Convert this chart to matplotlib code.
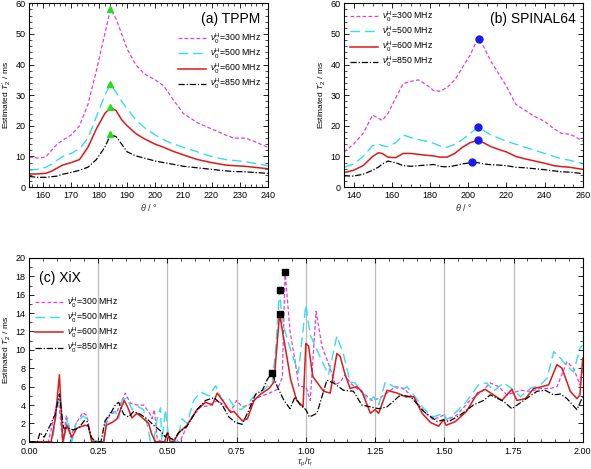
import numpy as np
import matplotlib
matplotlib.use("Agg")
import matplotlib.pyplot as plt
from matplotlib.ticker import MultipleLocator

plt.rcParams['font.family'] = ['Liberation Sans', 'DejaVu Sans']
plt.rcParams['mathtext.fontset'] = 'custom'
plt.rcParams['mathtext.rm'] = 'Liberation Sans'
plt.rcParams['mathtext.it'] = 'Liberation Sans:italic'

fields = ["300", "500", "600", "850"]

# (a) TPPM
tppm_theta = [155, 158, 161, 163, 165, 167, 170, 173, 176, 179, 182, 184, 186, 188, 190, 193,
              196, 200, 203, 206, 210, 215, 220, 225, 228, 232, 235, 240]
tppm_300 = [9.8, 9.5, 9.8, 12, 14, 15.3, 17, 20, 27, 38, 50, 58, 55, 50, 45, 40,
            37, 35, 33, 29, 24, 21, 19, 17, 16, 16, 15, 13]
tppm_500 = [5.5, 5.8, 6.5, 7.5, 8.8, 10, 11, 12.5, 16, 23, 30, 33.5, 31, 28, 25.5, 22,
            19.5, 17, 15.5, 14.2, 13, 11.5, 10, 9, 8.7, 8.3, 7.8, 7]
tppm_600 = [4.3, 4.3, 4.5, 5.2, 6.2, 7.2, 8, 9, 13, 19, 24, 26, 25, 22, 20, 17.5,
            15.8, 14, 13, 11.8, 10.5, 9, 8, 7.2, 7, 6.8, 6.5, 6]
tppm_850 = [3.5, 3.2, 3.2, 3.4, 3.6, 4.2, 4.8, 5.5, 6.5, 9, 13, 17, 16.5, 14, 11.5, 10.2,
            9.5, 8.5, 8, 7.5, 6.8, 6.3, 5.8, 5.3, 5.1, 5, 4.8, 4.5]
tppm_best_theta = [184, 184, 184, 184]
tppm_best_t2 = [58, 33.5, 26, 17.2]

# (b) SPINAL64
sp_theta = [135, 140, 145, 150, 153, 155, 158, 162, 166, 170, 174, 178, 182, 185, 189, 193,
            197, 201, 205, 208, 212, 216, 220, 225, 230, 235, 240, 245, 249, 253, 256, 260]
sp_300 = [11.5, 14, 17.5, 23.5, 22.5, 21.8, 24, 29, 33.8, 34.5, 35, 33.5, 31.5, 31.3, 32.5, 35,
          39, 43, 48.5, 46, 41, 37, 33, 27, 25, 23, 21.5, 19, 17.5, 17.3, 16.5, 15]
sp_500 = [6.5, 7.5, 10, 13.5, 14.2, 13.5, 13.2, 14.5, 17, 16.2, 15.5, 15, 14.3, 13.5, 13, 14,
          15.5, 17.5, 19.5, 18.5, 17, 16, 15, 14, 13, 12, 11, 10, 9.2, 8.8, 8.3, 7.8]
sp_600 = [4.7, 5.5, 7, 10, 11.2, 11, 9.8, 9.6, 11, 11, 10.7, 10.4, 10.2, 9.8, 9.8, 11,
          13, 14.5, 15.3, 14.5, 13.2, 12.3, 11.5, 10, 9.2, 8.5, 7.8, 7, 6.7, 6.5, 6.2, 5.8]
sp_850 = [3.7, 3.6, 4.2, 5.5, 6.5, 7.5, 8.5, 8, 7, 6.8, 7, 7.2, 7.4, 6.8, 6.6, 7,
          7.6, 7.9, 8, 7.6, 7.3, 7.2, 7, 6.5, 6.3, 6, 5.7, 5.3, 5, 4.9, 4.7, 4.4]
sp_best_theta = [205.5, 205, 205, 202]
sp_best_t2 = [48.5, 19.5, 15.3, 8.3]

# (c) XiX
xix_x_300 = [0, 0.07, 0.085, 0.1, 0.107, 0.122, 0.135, 0.15, 0.17, 0.195, 0.21, 0.22, 0.23, 0.27,
             0.28, 0.293, 0.318, 0.348, 0.366, 0.39, 0.414, 0.438, 0.444, 0.453, 0.463, 0.48,
             0.545, 0.583, 0.62, 0.65, 0.68, 0.704, 0.728, 0.75, 0.77, 0.795, 0.825, 0.861,
             0.897, 0.915, 0.925, 0.943, 0.96, 0.975, 1.0, 1.016, 1.037, 1.058, 1.088, 1.106,
             1.124, 1.142, 1.16, 1.184, 1.215, 1.239, 1.263, 1.293, 1.324, 1.354, 1.39, 1.426,
             1.46, 1.497, 1.51, 1.545, 1.593, 1.636, 1.666, 1.696, 1.726, 1.775, 1.81, 1.847,
             1.883, 1.907, 1.943, 1.967, 1.99, 2.0]
xix_300 = [0, 0, 2.0, 4.0, 4.5, 0, 2.8, 0.5, 2.0, 3.2, 2.8, 1.0, 0, 0,
           2.0, 3.0, 3.3, 5.3, 4.2, 4.0, 4.0, 3.0, 2.5, 3.5, 0.3, 0,
           0, 2.5, 3.8, 3.9, 4.5, 4.0, 3.3, 4.5, 3.8, 4.0, 4.8, 5.2,
           5.7, 7.0, 18.5, 12, 9, 6.0, 6.0, 4.5, 14.2, 10.4, 8.0, 6.2,
           6.5, 7.3, 6.4, 5.8, 5.1, 4.5, 4.7, 5.3, 6.0, 5.8, 4.7, 3.3,
           2.4, 2.9, 2.4, 2.9, 4.5, 5.5, 6.4, 6.0, 5.1, 5.6, 5.5, 5.8,
           5.8, 6.0, 8.7, 8.0, 6.2, 8.0]
xix_x_500 = [0, 0.085, 0.1, 0.11, 0.125, 0.14, 0.155, 0.17, 0.195, 0.21, 0.225, 0.27, 0.275,
             0.287, 0.312, 0.324, 0.336, 0.354, 0.372, 0.396, 0.414, 0.432, 0.438, 0.45, 0.463,
             0.475, 0.48, 0.493, 0.505, 0.535, 0.553, 0.571, 0.595, 0.62, 0.65, 0.674, 0.698,
             0.722, 0.74, 0.765, 0.789, 0.813, 0.849, 0.879, 0.891, 0.905, 0.915, 0.943, 0.973,
             1.0, 1.016, 1.04, 1.064, 1.082, 1.112, 1.136, 1.16, 1.178, 1.202, 1.227, 1.245,
             1.263, 1.287, 1.318, 1.348, 1.365, 1.39, 1.426, 1.46, 1.497, 1.51, 1.545, 1.58,
             1.624, 1.654, 1.678, 1.714, 1.744, 1.775, 1.81, 1.847, 1.871, 1.895, 1.92, 1.943,
             1.967, 1.99, 2.0]
xix_500 = [0, 0, 3.5, 5.0, 0, 2.6, 0, 2.0, 2.8, 2.5, 0.2, 0, 2.0,
           3.1, 3.3, 2.5, 4.5, 4.8, 3.5, 3.8, 3.5, 1.2, 0, 0, 2.5,
           3.7, 0, 3.5, 0.3, 0, 2.5, 2.0, 4.5, 5.4, 5.0, 6.1, 4.5,
           4.7, 3.9, 3.5, 4.0, 5.0, 5.7, 6.5, 10, 16.5, 13, 10.2, 7.5,
           14.9, 11.6, 10, 8.4, 7.3, 11.5, 9.5, 6.5, 6.4, 5.5, 4.4, 4.9,
           4.0, 6.5, 6.0, 5.6, 6.0, 5.1, 3.6, 2.7, 3.1, 2.4, 3.3, 4.4,
           6.2, 6.4, 5.5, 6.4, 5.8, 4.9, 5.8, 6.2, 6.9, 9.8, 9.1, 8.2,
           7.6, 10.2, 10.5]
xix_x_600 = [0, 0.08, 0.095, 0.11, 0.122, 0.136, 0.155, 0.173, 0.203, 0.215, 0.227, 0.27, 0.279,
             0.3, 0.318, 0.332, 0.344, 0.356, 0.372, 0.39, 0.414, 0.432, 0.444, 0.457, 0.49,
             0.5, 0.51, 0.523, 0.541, 0.571, 0.607, 0.638, 0.662, 0.68, 0.704, 0.728, 0.74,
             0.77, 0.789, 0.813, 0.837, 0.867, 0.885, 0.905, 0.93, 0.945, 0.967, 0.99, 1.0,
             1.01, 1.025, 1.064, 1.088, 1.112, 1.124, 1.142, 1.16, 1.184, 1.202, 1.233, 1.25,
             1.263, 1.293, 1.33, 1.36, 1.39, 1.42, 1.45, 1.48, 1.497, 1.507, 1.54, 1.58,
             1.62, 1.648, 1.678, 1.708, 1.744, 1.762, 1.793, 1.823, 1.853, 1.877, 1.907, 1.925,
             1.955, 1.979, 1.99, 2.0]
xix_600 = [0, 0, 2.5, 7.3, 0, 1.8, 0.5, 1.5, 1.8, 1.7, 0, 0, 1.8,
           2.1, 2.5, 3.6, 4.5, 3.8, 2.6, 3.1, 2.5, 2.0, 0.8, 0, 0,
           1.0, 0, 0, 1.0, 1.8, 3.5, 4.3, 4.0, 5.3, 4.3, 3.2, 3.3,
           2.3, 2.5, 4.5, 5.2, 5.8, 6.5, 13.9, 9.5, 6.8, 4.5, 3.8, 10.7,
           10.4, 7.1, 5.5, 5.3, 9.6, 9.3, 7.3, 5.8, 6.0, 5.5, 3.1, 3.5,
           3.1, 5.6, 5.3, 4.9, 4.9, 3.1, 2.1, 1.7, 2.4, 1.8, 2.2, 3.3,
           5.3, 5.7, 5.1, 4.5, 5.7, 4.5, 4.7, 5.8, 6.0, 6.2, 8.4, 8.0,
           5.5, 4.7, 5.1, 9.1]
xix_x_850 = [0, 0.03, 0.04, 0.055, 0.08, 0.095, 0.11, 0.125, 0.14, 0.16, 0.18, 0.2, 0.21, 0.225,
             0.24, 0.26, 0.275, 0.293, 0.312, 0.324, 0.342, 0.36, 0.378, 0.402, 0.426, 0.45,
             0.475, 0.493, 0.5, 0.51, 0.523, 0.541, 0.571, 0.607, 0.638, 0.668, 0.698, 0.722,
             0.746, 0.77, 0.795, 0.819, 0.843, 0.861, 0.877, 0.897, 0.921, 0.943, 0.961, 0.98,
             1.0, 1.013, 1.04, 1.076, 1.1, 1.136, 1.172, 1.202, 1.233, 1.263, 1.293, 1.342,
             1.378, 1.426, 1.475, 1.497, 1.516, 1.557, 1.605, 1.642, 1.666, 1.714, 1.744, 1.787,
             1.835, 1.865, 1.895, 1.92, 1.943, 1.979, 2.0]
xix_850 = [0, 0, 1.0, 0.5, 2.0, 3.0, 5.2, 1.5, 1.5, 1.3, 1.5, 2.3, 2.2, 0.5,
           0, 0, 2.3, 3.0, 4.0, 4.3, 3.0, 2.7, 3.3, 3.0, 2.5, 1.8,
           1.2, 0.5, 1.0, 0.4, 0.2, 1.0, 1.7, 3.5, 4.5, 4.8, 4.0, 2.7,
           2.1, 1.9, 3.5, 5.2, 5.6, 6.8, 7.5, 6.0, 4.5, 3.6, 4.9, 4.0,
           3.5, 2.7, 3.1, 6.7, 6.4, 5.6, 5.5, 4.0, 3.8, 3.6, 3.8, 5.1,
           4.9, 3.3, 2.2, 2.4, 2.2, 2.9, 4.0, 4.5, 5.1, 4.4, 3.6, 4.5,
           5.5, 5.6, 5.1, 5.2, 4.7, 3.5, 4.9]
xix_best_x = [0.925, 0.905, 0.905, 0.877]
xix_best_t2 = [18.5, 16.5, 13.9, 7.5]

colors = ['#e03ce0', '#33ddee', '#e01818', 'black']
styles = [dict(ls=(0, (3, 1.8)), lw=0.9),
          dict(ls=(0, (7, 3.5)), lw=1.0),
          dict(ls='-', lw=1.1),
          dict(ls=(0, (5, 1.5, 1, 1.5)), lw=0.9)]
labels = [r'$\nu_0^{\rm H}$=' + f + ' MHz' for f in fields]
ylab = r"Estimated $T_2'$ / ms"
leg_kw = dict(frameon=False, fontsize=6.3, handlelength=3.2, handletextpad=0.5,
              labelspacing=0.12, borderaxespad=0.3)


def style_axes(ax):
    ax.tick_params(which='both', direction='in', top=True, right=True, labelsize=6.5, pad=2.5)
    ax.tick_params(which='major', length=3.5, width=0.6)
    ax.tick_params(which='minor', length=2, width=0.5)
    for s in ax.spines.values():
        s.set_linewidth(0.8)


fig = plt.figure(figsize=(5.91, 4.69), dpi=100)
ax_a = fig.add_axes([0.049, 0.601, 0.404, 0.392])
ax_b = fig.add_axes([0.582, 0.601, 0.404, 0.392])
ax_c = fig.add_axes([0.049, 0.058, 0.937, 0.392])

# (a)
for y, c, st, lb in zip([tppm_300, tppm_500, tppm_600, tppm_850], colors, styles, labels):
    ax_a.plot(tppm_theta, y, color=c, label=lb, **st)
ax_a.plot(tppm_best_theta, tppm_best_t2, '^', color='#22dd22', ms=5, ls='none')
ax_a.set_xlim(155, 240)
ax_a.set_ylim(0, 60)
ax_a.xaxis.set_major_locator(MultipleLocator(10))
ax_a.xaxis.set_minor_locator(MultipleLocator(2))
ax_a.yaxis.set_major_locator(MultipleLocator(10))
ax_a.yaxis.set_minor_locator(MultipleLocator(2))
ax_a.text(0.97, 0.95, '(a) TPPM', transform=ax_a.transAxes, ha='right', va='top', fontsize=10)
ax_a.legend(loc='upper right', bbox_to_anchor=(1.0, 0.88), **leg_kw)
ax_a.set_xlabel(r'$\theta$ / °', fontsize=6.5, color='#333333', labelpad=2)
ax_a.set_ylabel(ylab, fontsize=6, labelpad=1)
style_axes(ax_a)

# (b)
for y, c, st, lb in zip([sp_300, sp_500, sp_600, sp_850], colors, styles, labels):
    ax_b.plot(sp_theta, y, color=c, label=lb, **st)
ax_b.plot(sp_best_theta, sp_best_t2, 'o', color='#1a1aee', ms=5, ls='none')
ax_b.set_xlim(135, 260)
ax_b.set_ylim(0, 60)
ax_b.xaxis.set_major_locator(MultipleLocator(20))
ax_b.xaxis.set_minor_locator(MultipleLocator(5))
ax_b.yaxis.set_major_locator(MultipleLocator(10))
ax_b.yaxis.set_minor_locator(MultipleLocator(2))
ax_b.text(0.97, 0.95, '(b) SPINAL64', transform=ax_b.transAxes, ha='right', va='top', fontsize=10)
ax_b.legend(loc='upper left', **leg_kw)
ax_b.set_xlabel(r'$\theta$ / °', fontsize=6.5, color='#333333', labelpad=2)
ax_b.set_ylabel(ylab, fontsize=6, labelpad=1)
style_axes(ax_b)

# (c)
for v in np.arange(0.25, 2.0, 0.25):
    ax_c.axvline(v, color='#bbbbbb', lw=0.9, zorder=0)
xs = [xix_x_300, xix_x_500, xix_x_600, xix_x_850]
for x, y, c, st, lb in zip(xs, [xix_300, xix_500, xix_600, xix_850], colors, styles, labels):
    ax_c.plot(x, y, color=c, label=lb, **st)
ax_c.plot(xix_best_x, xix_best_t2, 's', color='black', ms=4, ls='none')
ax_c.set_xlim(0, 2)
ax_c.set_ylim(0, 20)
ax_c.xaxis.set_major_locator(MultipleLocator(0.25))
ax_c.xaxis.set_minor_locator(MultipleLocator(0.05))
ax_c.yaxis.set_major_locator(MultipleLocator(2))
ax_c.yaxis.set_minor_locator(MultipleLocator(1))
ax_c.xaxis.set_major_formatter(matplotlib.ticker.FormatStrFormatter('%.2f'))
ax_c.text(0.018, 0.93, '(c) XiX', transform=ax_c.transAxes, ha='left', va='top', fontsize=10)
ax_c.legend(loc='upper left', bbox_to_anchor=(0.0, 0.83), **leg_kw)
ax_c.set_xlabel(r'$\tau_{\rm p}/\tau_{\rm r}$', fontsize=6.5, color='#333333', labelpad=0)
ax_c.set_ylabel(ylab, fontsize=6, labelpad=1)
style_axes(ax_c)
ax_c.tick_params(axis='x', which='both', pad=4)

fig.savefig('out.png', dpi=100)
